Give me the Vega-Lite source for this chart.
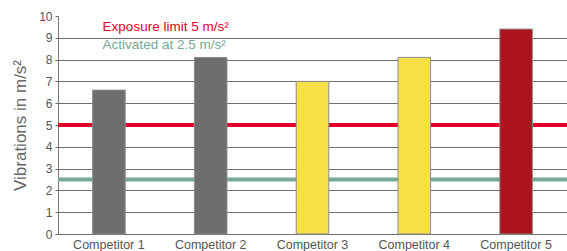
{
  "$schema": "https://vega.github.io/schema/vega-lite/v6.json",
  "width": 509,
  "height": 218,
  "autosize": {"type": "none"},
  "padding": {"left": 58, "top": 16, "right": 0, "bottom": 17},
  "background": "white",
  "config": {"view": {"stroke": null}, "font": "Liberation Sans"},
  "datasets": {
    "bars": [
      {"competitor": "Competitor 1", "value": 6.6, "group": "grey"},
      {"competitor": "Competitor 2", "value": 8.1, "group": "grey"},
      {"competitor": "Competitor 3", "value": 7.0, "group": "yellow"},
      {"competitor": "Competitor 4", "value": 8.1, "group": "yellow"},
      {"competitor": "Competitor 5", "value": 9.4, "group": "red"}
    ],
    "limits": [
      {"label": "Exposure limit 5 m/s²", "level": 5, "kind": "exposure", "texty": 9.5},
      {"label": "Activated at 2.5 m/s²", "level": 2.5, "kind": "activated", "texty": 8.65}
    ]
  },
  "layer": [
    {
      "data": {"name": "limits"},
      "mark": {"type": "rule", "strokeWidth": 4},
      "encoding": {
        "y": {
          "field": "level", "type": "quantitative",
          "scale": {"domain": [0, 10], "nice": false},
          "axis": {
            "title": "Vibrations in m/s²", "titleFontSize": 17, "titleFontWeight": "normal", "titleColor": "#666", "titlePadding": 9,
            "tickCount": 10, "labelOverlap": false,
            "labelFontSize": 12, "labelColor": "#555", "labelPadding": 3,
            "tickColor": "#666", "tickSize": 3, "domainColor": "#777",
            "grid": true,
            "gridColor": {"condition": {"test": "datum.value == 10", "value": "transparent"}, "value": "#6e6e6e"},
            "gridWidth": 1, "zindex": 0
          }
        },
        "color": {"field": "kind", "type": "nominal", "scale": {"domain": ["exposure", "activated"], "range": ["#e4002b", "#76aa96"]}, "legend": null}
      }
    },
    {
      "data": {"name": "bars"},
      "mark": {"type": "bar", "stroke": "#8c8c8c", "strokeWidth": 1},
      "encoding": {
        "x": {
          "field": "competitor", "type": "nominal", "sort": null,
          "scale": {"paddingInner": 0.68, "paddingOuter": 0.34},
          "axis": {"title": null, "labelAngle": 0, "labelFontSize": 12.5, "labelColor": "#555", "ticks": false, "domain": false, "labelPadding": 4}
        },
        "y": {"field": "value", "type": "quantitative"},
        "color": {"field": "group", "type": "nominal", "scale": {"domain": ["grey", "yellow", "red"], "range": ["#6d6e70", "#f7df46", "#ad1420"]}, "legend": null}
      }
    },
    {
      "data": {"name": "limits"},
      "mark": {"type": "text", "align": "left", "baseline": "middle", "fontSize": 13.5, "dx": 10},
      "encoding": {
        "x": {"datum": "Competitor 1", "type": "nominal", "bandPosition": 0},
        "y": {"field": "texty", "type": "quantitative"},
        "text": {"field": "label"},
        "color": {"field": "kind", "type": "nominal", "scale": {"domain": ["exposure", "activated"], "range": ["#e4002b", "#76aa96"]}, "legend": null}
      }
    }
  ],
  "resolve": {"scale": {"color": "independent"}}
}
